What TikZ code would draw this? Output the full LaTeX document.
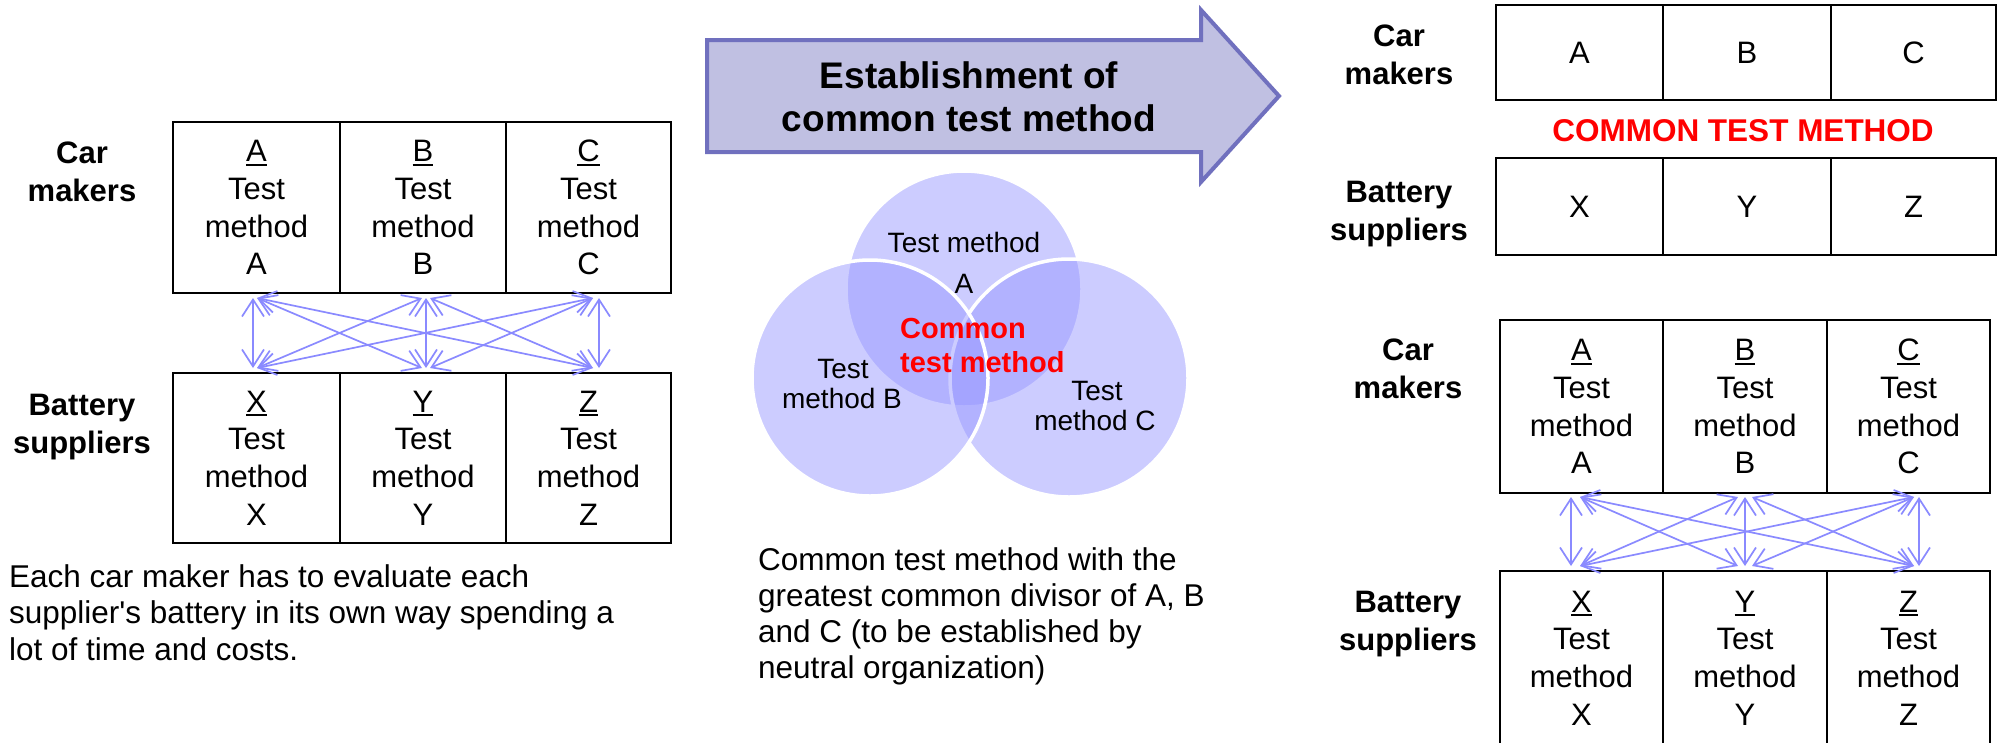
\documentclass[tikz,border=0pt]{standalone}
\usepackage{fontspec}
\setmainfont{Liberation Sans}
\usetikzlibrary{arrows.meta}

\definecolor{linkcol}{RGB}{138,138,255}
\definecolor{bandfill}{RGB}{192,192,226}
\definecolor{bandedge}{RGB}{112,112,190}
\definecolor{venncol}{RGB}{151,151,255}
\definecolor{alertred}{RGB}{255,0,0}

% underlined cell heading
\newcommand\ulbox[1]{\setbox0\hbox{#1}\rlap{\rule[-4pt]{\wd0}{2pt}}\box0}

\tikzset{
  cell/.style={draw, line width=2pt, inner sep=0pt, align=center,
    font=\fontsize{31}{37.7}\selectfont},
  rowlabel/.style={align=center, inner sep=0pt,
    font=\fontsize{31}{38}\selectfont\bfseries},
  link/.style={linkcol, line width=1.7pt,
    {Straight Barb[length=17pt,width=22pt]}-{Straight Barb[length=17pt,width=22pt]}},
  vennset/.style={fill=venncol, fill opacity=0.49, draw=white, line width=3.5pt},
  venntext/.style={anchor=base, inner sep=0pt, font=\fontsize{28}{30}\selectfont},
  commontext/.style={anchor=base west, inner sep=0pt, text=alertred,
    font=\fontsize{29}{34}\selectfont\bfseries},
  para/.style={anchor=base west, inner sep=0pt, font=\fontsize{31.5}{36}\selectfont},
}

\begin{document}
\begin{tikzpicture}[x=1pt,y=-1pt]
\useasboundingbox (0,0) rectangle (1998,742);
\fill[white] (0,0) rectangle (1998,742);

% ---------- left: every maker against every supplier ----------
\node[rowlabel] (lcar) at (82,171.75) {Car\\makers};
\node[rowlabel] (lbat) at (82,427) {Battery\\suppliers};

\node[cell, minimum width=167pt, minimum height=171pt] (lA) at (256.5,207.5) {\ulbox{A}\\Test\\method\\A};
\node[cell, minimum width=166pt, minimum height=171pt] (lB) at (423,207.5) {\ulbox{B}\\Test\\method\\B};
\node[cell, minimum width=165pt, minimum height=171pt] (lC) at (588.5,207.5) {\ulbox{C}\\Test\\method\\C};

\node[cell, minimum width=167pt, minimum height=170pt] (lX) at (256.5,458) {\ulbox{X}\\Test\\method\\X};
\node[cell, minimum width=166pt, minimum height=170pt] (lY) at (423,458) {\ulbox{Y}\\Test\\method\\Y};
\node[cell, minimum width=165pt, minimum height=170pt] (lZ) at (588.5,458) {\ulbox{Z}\\Test\\method\\Z};

\draw[link] ([xshift=-3.5pt,yshift=-4pt]lA.south) -- ([xshift=-3.5pt,yshift=4pt]lX.north);
\draw[link] ([xshift=0.5pt,yshift=-4pt]lA.south) -- ([xshift=-1pt,yshift=4pt]lY.north);
\draw[link] ([xshift=0.5pt,yshift=-4pt]lA.south) -- ([xshift=4.5pt,yshift=4pt]lZ.north);
\draw[link] ([xshift=-1pt,yshift=-4pt]lB.south) -- ([xshift=0.5pt,yshift=4pt]lX.north);
\draw[link] ([xshift=3pt,yshift=-4pt]lB.south) -- ([xshift=3pt,yshift=4pt]lY.north);
\draw[link] ([xshift=7pt,yshift=-4pt]lB.south) -- ([xshift=4.5pt,yshift=4pt]lZ.north);
\draw[link] ([xshift=4.5pt,yshift=-4pt]lC.south) -- ([xshift=0.5pt,yshift=4pt]lX.north);
\draw[link] ([xshift=4.5pt,yshift=-4pt]lC.south) -- ([xshift=7pt,yshift=4pt]lY.north);
\draw[link] ([xshift=10.5pt,yshift=-4pt]lC.south) -- ([xshift=10.5pt,yshift=4pt]lZ.north);

\node[para] (ln1) at (9,587) {Each car maker has to evaluate each};
\node[para] (ln2) at (9,623.5) {supplier\textquotesingle s battery in its own way spending a};
\node[para] (ln3) at (9,660) {lot of time and costs.};

% ---------- middle: banner arrow and overlapping methods ----------
\draw[fill=bandfill, draw=bandedge, line width=4pt, line join=miter]
  (707,40) -- (1201,40) -- (1201,10) -- (1279,96) -- (1201,182) -- (1201,152) -- (707,152) -- cycle;
\node[font=\fontsize{37}{43}\selectfont\bfseries, align=center, inner sep=0pt] (title)
  at (969,97) {Establishment of\\common test method};

\path[vennset] (964,289) circle[radius=118pt];
\path[vennset] (1069,378) circle[radius=119pt];
\path[vennset] (870,378) circle[radius=118pt];

\node[venntext] (vA1) at (964,252) {Test method};
\node[venntext] (vA2) at (964,293) {A};
\node[venntext] (vB1) at (843,378) {Test};
\node[venntext] (vB2) at (842,408) {method B};
\node[venntext] (vC1) at (1097,400) {Test};
\node[venntext] (vC2) at (1095,430) {method C};
\node[commontext] (vM1) at (900,338) {Common};
\node[commontext] (vM2) at (900,372) {test method};

\node[para] (mn1) at (758,570) {Common test method with the};
\node[para] (mn2) at (758,606.5) {greatest common divisor of A, B};
\node[para] (mn3) at (758,642.5) {and C (to be established by};
\node[para] (mn4) at (758,678.5) {neutral organization)};

% ---------- right, top: one shared method ----------
\node[rowlabel] (tcar) at (1399,54.75) {Car\\makers};
\node[rowlabel] (tbat) at (1399,214) {Battery\\suppliers};

\node[cell, minimum width=167pt, minimum height=95pt] (tA) at (1579.5,52.5) {A};
\node[cell, minimum width=168pt, minimum height=95pt] (tB) at (1747,52.5) {B};
\node[cell, minimum width=165pt, minimum height=95pt] (tC) at (1913.5,52.5) {C};
\node[cell, minimum width=167pt, minimum height=97pt] (tX) at (1579.5,206.5) {X};
\node[cell, minimum width=168pt, minimum height=97pt] (tY) at (1747,206.5) {Y};
\node[cell, minimum width=165pt, minimum height=97pt] (tZ) at (1913.5,206.5) {Z};

\node[anchor=base, inner sep=0pt, text=alertred, font=\fontsize{31.5}{36}\selectfont\bfseries]
  (common) at (1743,141) {COMMON TEST METHOD};

% ---------- right, bottom: every maker against every supplier ----------
\node[rowlabel] (rcar) at (1408,368.75) {Car\\makers};
\node[rowlabel] (rbat) at (1408,624) {Battery\\suppliers};

\node[cell, minimum width=163pt, minimum height=173pt] (rA) at (1581.5,406.5) {\ulbox{A}\\Test\\method\\A};
\node[cell, minimum width=164pt, minimum height=173pt] (rB) at (1745,406.5) {\ulbox{B}\\Test\\method\\B};
\node[cell, minimum width=163pt, minimum height=173pt] (rC) at (1908.5,406.5) {\ulbox{C}\\Test\\method\\C};

\node[cell, minimum width=163pt, minimum height=174pt] (rX) at (1581.5,658) {\ulbox{X}\\Test\\method\\X};
\node[cell, minimum width=164pt, minimum height=174pt] (rY) at (1745,658) {\ulbox{Y}\\Test\\method\\Y};
\node[cell, minimum width=163pt, minimum height=174pt] (rZ) at (1908.5,658) {\ulbox{Z}\\Test\\method\\Z};

\draw[link] ([xshift=-10.5pt,yshift=-3pt]rA.south) -- ([xshift=-10.5pt,yshift=4pt]rX.north);
\draw[link] ([xshift=-1.5pt,yshift=-3pt]rA.south) -- ([xshift=-7pt,yshift=4pt]rY.north);
\draw[link] ([xshift=-1.5pt,yshift=-3pt]rA.south) -- ([xshift=5.5pt,yshift=4pt]rZ.north);
\draw[link] ([xshift=-7pt,yshift=-3pt]rB.south) -- ([xshift=-1.5pt,yshift=4pt]rX.north);
\draw[link] ([yshift=-3pt]rB.south) -- ([yshift=4pt]rY.north);
\draw[link] ([xshift=7pt,yshift=-3pt]rB.south) -- ([xshift=5.5pt,yshift=4pt]rZ.north);
\draw[link] ([xshift=5.5pt,yshift=-3pt]rC.south) -- ([xshift=-1.5pt,yshift=4pt]rX.north);
\draw[link] ([xshift=5.5pt,yshift=-3pt]rC.south) -- ([xshift=7pt,yshift=4pt]rY.north);
\draw[link] ([xshift=10.5pt,yshift=-3pt]rC.south) -- ([xshift=10.5pt,yshift=4pt]rZ.north);
\end{tikzpicture}
\end{document}
